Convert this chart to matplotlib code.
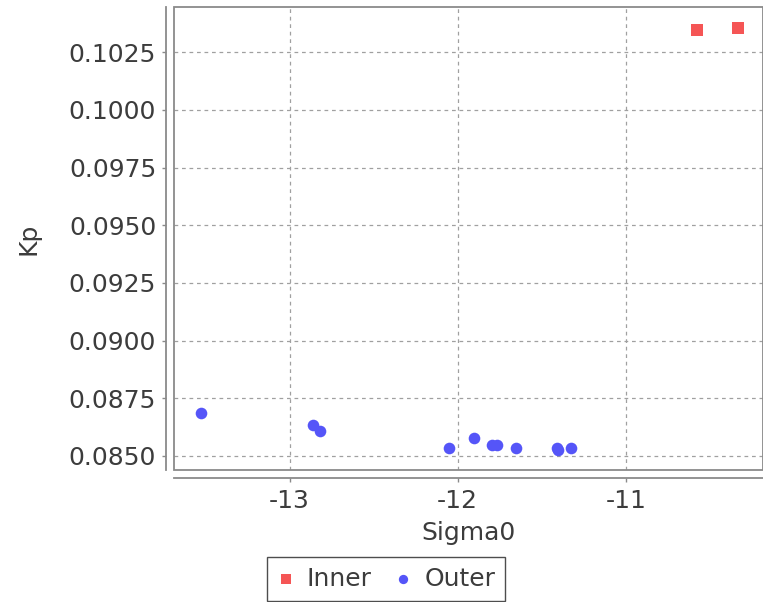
"""Scatter of Kp vs Sigma0 for inner/outer groups, JFreeChart-like look."""

import matplotlib

matplotlib.use("Agg")
import matplotlib.pyplot as plt
from matplotlib.patches import Rectangle
from matplotlib.ticker import FormatStrFormatter, MultipleLocator

plt.rcParams["axes.unicode_minus"] = False

# data
inner_sigma0 = [-10.574, -10.334]
inner_kp = [0.10347, 0.10354]

outer_sigma0 = [-13.529, -12.863, -12.816, -12.054, -11.905, -11.797,
                -11.767, -11.652, -11.410, -11.405, -11.324]
outer_kp = [0.08688, 0.08633, 0.08610, 0.08533, 0.08577, 0.08549,
            0.08549, 0.08533, 0.08535, 0.08524, 0.08535]

RED = "#f55555"
BLUE = "#5555f8"
TXT = "#3c3c3c"
GRAY = "#8a8a8a"
FS = 18

fig = plt.figure(figsize=(7.63, 6.02), dpi=100)
ax = fig.add_axes([173.5 / 763, 1 - 470 / 602, 1 - 173.5 / 763, (470 - 7.3) / 602])

ax.scatter(inner_sigma0, inner_kp, marker="s", s=80, color=RED, label="Inner",
           zorder=3, linewidths=0)
ax.scatter(outer_sigma0, outer_kp, marker="o", s=70, color=BLUE, label="Outer",
           zorder=3, linewidths=0)

ax.set_xlim(-13.69, -10.184)
ax.set_ylim(0.08439, 0.10445)
ax.xaxis.set_major_locator(MultipleLocator(1))
ax.yaxis.set_major_locator(MultipleLocator(0.0025))
ax.yaxis.set_major_formatter(FormatStrFormatter("%.4f"))

ax.grid(True, color="#a0a0a0", linestyle=(0, (3, 3)), linewidth=0.9)
ax.set_axisbelow(True)

# axis lines sit a little away from the plot frame
for side in ("top", "right"):
    ax.spines[side].set_visible(False)
for side in ("left", "bottom"):
    ax.spines[side].set_position(("outward", 5.5))
    ax.spines[side].set_color(GRAY)
    ax.spines[side].set_linewidth(1.3)
ax.add_patch(Rectangle((0, 0), 1, 1, transform=ax.transAxes, fill=False,
                       edgecolor=GRAY, linewidth=1.3, clip_on=False, zorder=4))

ax.tick_params(axis="both", colors=GRAY, labelcolor=TXT, labelsize=FS,
               length=3, width=1)
ax.tick_params(axis="y", pad=4)
ax.tick_params(axis="x", pad=5)

ax.set_xlabel("Sigma0", fontsize=FS, color=TXT, labelpad=6)
ax.set_ylabel("Kp", fontsize=FS, color=TXT, labelpad=20)

leg = fig.legend(loc="center", bbox_to_anchor=(386 / 763, 1 - 579 / 602), ncol=2,
                 fontsize=FS, frameon=True, fancybox=False, handletextpad=0.5,
                 columnspacing=0.9, borderpad=0.4, handlelength=0.7,
                 markerscale=0.8)
leg.get_frame().set_edgecolor("#222222")
leg.get_frame().set_linewidth(1.0)
for t in leg.get_texts():
    t.set_color(TXT)

fig.savefig("out.png", dpi=100)
